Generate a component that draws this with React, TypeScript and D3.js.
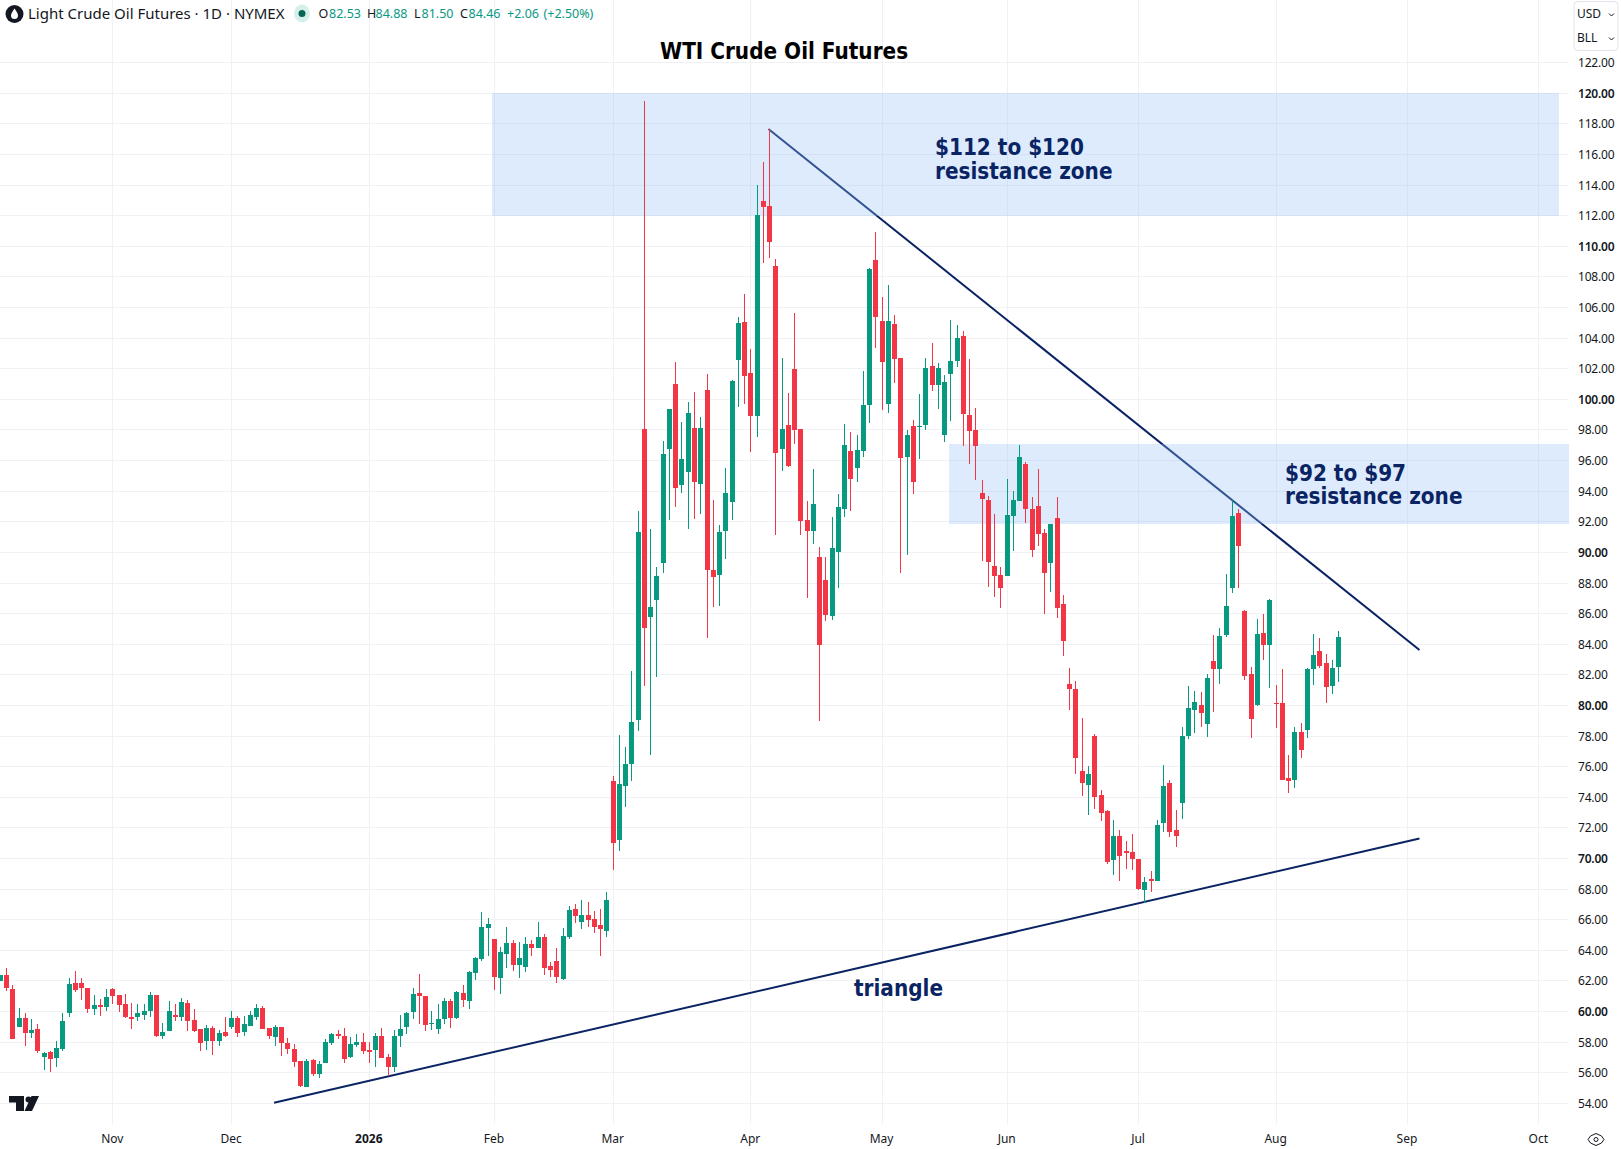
import React from "react";
import * as d3 from "d3";

// daily bars, left to right
const opens = [
  62.02,62.36,61.5,58.98,59.6,58.6,58.83,57.02,57.33,56.96,
  57.54,59.87,61.83,61.83,61.52,60.15,60.4,60.28,61.46,61.06,
  60.47,59.67,59.63,59.8,60,61.06,58.43,58.7,59.8,59.67,
  60.54,59.43,58.83,58.04,58.9,58.04,58.63,58.98,59.57,58.65,
  59.04,59.67,60.2,58.9,58.3,58.96,57.92,57.53,56.75,55.07,
  56.81,55.9,56.62,57.92,58.5,58.37,57,57.78,57.98,57.46,
  57.46,58.37,57,56.4,58.37,58.96,59.94,61.2,61.03,59.2,
  58.87,59.52,60.7,59.59,61.22,60.7,62.53,63.45,65.47,64.75,
  62.2,63.77,64.49,63.05,62.92,64.43,64.17,64.88,62.99,63.32,
  62.14,64.88,66.71,65.87,66.32,66.06,65.67,65.28,75.05,71.2,
  74.72,76.16,79.04,98.04,85.76,86.87,89.29,96.74,100.98,94.38,
  95.23,98.11,94.45,100.59,88.83,88.5,91.38,93.27,102.57,105.05,
  101.72,98.89,112.96,112.64,108.71,96.74,98.3,101.98,98.04,92.1,
  91.41,89.71,88.18,85.83,90.01,92.84,96.63,95.52,96.63,99.64,
  109.11,105.12,99.7,104.93,102.71,96.24,98.26,98.2,98.33,102.18,
  100.94,97.68,101.66,102.51,104.14,98.98,98.0,93.89,93.43,89.12,
  88.53,88.47,92.39,93.37,95.78,92.84,93.04,91.28,89.32,92.25,
  86.64,81.41,81.09,75.73,74.81,78.02,74.16,73.12,69.92,71.48,
  70.5,70.44,69.98,67.96,68.67,68.54,72.33,74.95,71.88,73.64,
  78.02,79.71,80.04,78.8,82.91,82.39,84.61,87.68,92.58,86.14,
  82.03,80.0,84.71,83.92,80.13,80.13,75.23,75.1,78.24,78.37,
  82.35,83.53,82.75,81.24,82.53,
];
const highs = [
  62.4,62.85,61.7,60.2,59.87,59.48,59.15,57.33,57.45,58.1,
  59.87,62.22,62.62,62.22,61.52,61.06,60.8,61.45,61.52,61.06,
  61.13,60.54,60.46,60.46,61.3,61.06,59.27,60.66,60.46,60.87,
  60.74,60.15,58.83,59.1,59.03,58.77,59.67,60,59.7,59.7,
  60,60.5,60.33,58.9,59.1,58.96,58.24,57.85,56.75,56.88,
  56.88,56.75,58.17,58.57,58.76,58.9,58.3,58.5,58.57,57.98,
  58.57,58.9,57.2,58.76,59.8,59.94,61.52,62.43,61.03,60.05,
  60.5,60.9,60.83,61.36,61.75,62.66,63.58,66.52,66.13,64.75,
  64.23,65.54,64.69,64.56,64.88,64.69,65.87,65.08,63.25,64.17,
  65.47,66.91,67.04,67.3,67.17,66.58,66.71,67.83,75.38,78.06,
  77.27,82.24,92.69,119.5,91.51,89.03,97.26,99.35,102.44,98.5,
  99.81,100.5,98.83,101.66,93.4,91.77,95.5,101.26,105.38,106.88,
  103.29,114.0,115.51,117.67,109.17,102.7,100.41,105.64,98.04,93.34,
  95.46,90.36,89.68,92.3,93.8,98.4,97.87,97.68,101.86,108.58,
  110.94,106.69,107.47,105.51,102.71,98.0,98.66,100.35,102.71,103.69,
  102.38,101.6,105.19,104.86,104.47,102.64,99.44,94.74,93.69,92.52,
  89.05,94.8,94.02,97.02,95.91,93.63,95.46,91.54,91.86,93.63,
  87.22,82.46,81.61,79.19,76.06,78.15,74.49,73.18,72.53,71.88,
  71.16,71.61,69.98,68.81,69.2,72.53,76.12,75.14,73.18,78.6,
  81.28,80.95,80.89,82.07,84.61,85.07,88.6,93.43,92.84,86.21,
  82.49,85.62,85.95,86.93,81.31,82.35,76.74,78.57,78.83,82.42,
  84.64,84.38,83.33,83.0,84.88,
];
const lows = [
  62.0,61.35,58.2,58.98,57.74,58.26,57.28,56.15,56.02,56.4,
  57.4,59.67,61.26,60.72,59.87,59.76,59.7,60.0,60.47,59.94,
  59.55,58.83,59.37,59.42,59.67,58.3,58.17,58.7,59.35,59.35,
  58.7,58.65,57.4,57.46,57.13,57.72,58.3,58.83,58.3,58.37,
  59.04,59.46,58.83,58.17,57.74,57.07,57.2,56.4,55.07,55.07,
  55.77,55.65,56.62,57.8,58.17,56.62,56.94,57.65,57.2,56.62,
  56.34,56.94,55.77,56.02,57.68,58.5,59.5,59.2,58.74,58.81,
  58.54,59.2,58.94,59.52,60.31,60.18,62.07,63.32,63.64,61.42,
  61.16,62.86,62.66,62.2,62.6,63.64,64.17,62.4,62.27,61.88,
  62.07,64.75,65.8,65.41,65.54,65.15,63.64,64.88,69.24,70.48,
  73.35,75.05,78.32,81.26,76.75,81.84,88.64,92.1,92.95,93.86,
  91.51,92.16,92.49,84.39,86.42,86.48,89.55,92.1,99.48,99.67,
  96.54,97.52,108.91,109.24,91.12,95.3,95.56,97.06,91.12,87.0,
  90.56,79.0,85.5,85.57,87.66,92.32,92.71,94.61,96.24,98.46,
  103.36,99.31,99.11,101.07,88.66,89.84,93.82,96.11,98.0,100.55,
  99.38,97.22,98.59,102.12,96.96,95.78,94.74,89.45,87.75,87.1,
  86.38,88.47,90.1,93.37,91.93,89.71,90.43,85.98,87.42,85.72,
  83.24,79.71,75.53,74.1,72.86,73.25,72.46,69.65,68.94,68.54,
  69.33,69.26,67.96,67.11,67.83,68.54,71.74,71.42,70.77,72.59,
  77.82,78.21,78.6,77.95,79.58,81.41,84.48,87.36,87.68,81.64,
  77.85,79.94,83.0,81.11,78.5,75.1,74.26,74.58,76.54,77.85,
  81.31,82.42,80.13,80.72,81.5,
];
const closes = [
  62.36,61.52,58.2,59.6,58.6,58.76,57.4,57.28,56.9,57.6,
  59.41,61.77,61.39,61.52,60.15,60.4,60.28,60.93,61.0,60.4,
  59.63,59.48,59.87,60.06,61.05,58.43,58.63,60,59.67,60.6,
  59.37,58.7,57.92,58.9,58.04,58.57,58.43,59.57,58.57,59.17,
  59.76,60.2,58.83,58.37,58.96,57.92,57.53,56.68,55.13,56.75,
  55.9,56.55,57.98,58.5,58.37,56.88,57.85,57.98,57.4,57.33,
  58.37,56.94,56.34,58.43,58.83,59.87,61.13,61.0,59.13,59.24,
  59.52,60.7,59.59,61.29,60.77,62.6,63.51,65.54,65.73,62.27,
  63.9,64.49,63.05,63.51,64.43,64.17,64.88,62.86,62.73,62.27,
  64.95,66.65,66.26,66.32,66.0,65.54,65.41,67.3,71.02,74.86,
  76.16,78.9,91.31,85.04,86.42,88.44,96.41,99.35,94.19,96.08,
  99.09,94.58,98.11,88.83,88.38,91.31,93.86,101.2,104.99,101.52,
  98.89,112.05,112.57,110.28,96.48,98.04,95.63,97.98,92.03,91.38,
  93.17,83.96,85.89,90.27,92.95,97.02,94.8,96.7,99.64,108.52,
  105.38,102.44,105.12,102.64,96.17,97.68,94.61,98.24,102.05,100.94,
  102.05,101.14,102.51,104.01,99.05,97.94,96.96,93.5,89.38,88.47,
  87.68,92.45,93.43,96.24,92.84,90.17,91.21,88.66,91.86,86.38,
  84.22,81.09,76.58,74.95,75.53,74.03,72.99,69.79,71.48,70.18,
  70.37,69.98,68.02,68.48,68.54,72.2,74.75,71.74,71.48,78.02,
  79.84,80.24,79.52,81.8,82.39,84.55,86.51,92.39,90.43,81.9,
  79.09,84.64,83.92,86.86,80.07,75.1,75.03,78.24,77.06,82.35,
  83.27,82.55,81.18,82.42,84.46,
];

const priceTicks = d3.range(54, 123, 2);
const boldPrices = [60, 70, 80, 90, 100, 110, 120];
const monthLabels = ["Nov", "Dec", "2026", "Feb", "Mar", "Apr", "May", "Jun", "Jul", "Aug", "Sep", "Oct"];
const monthBars = [18, 37, 59, 79, 98, 120, 141, 161, 182, 204, 225, 246];

// drawings: bar number / price pairs
const fallingLine: [number, number][] = [[122.9, 117.67], [227, 83.62]];
const risingLine: [number, number][] = [[43.85, 54.04], [227, 71.3]];
const upperZone = { from: 78.7, to: 249.3, top: 120, bottom: 112 };
const lowerZone = { from: 151.8, to: 250.9, top: 97.08, bottom: 91.88 };

const W = 1621;
const H = 1149;
const UP = "#089981";
const DOWN = "#f23645";
const NAVY = "#0a2463";
const GRID = "#f0f1f4";
const INK = "#131722";
const FONT = "'Noto Sans', sans-serif";
const NOTE_FONT = "'DejaVu Sans Condensed', 'DejaVu Sans', sans-serif";

const x = d3.scaleLinear().domain([0, 246]).range([-0.2, 1538.3]);
const y = d3.scaleLinear().domain([54, 122]).range([1103.3, 62.7]);
const line = d3.line<[number, number]>().x((d) => x(d[0])).y((d) => y(d[1]));

const legendBits = [
  { t: "O", x: 318.5, c: INK }, { t: "82.53", x: 329, c: UP },
  { t: "H", x: 367, c: INK }, { t: "84.88", x: 375.5, c: UP },
  { t: "L", x: 414, c: INK }, { t: "81.50", x: 421.5, c: UP },
  { t: "C", x: 460, c: INK }, { t: "84.46", x: 468.5, c: UP },
  { t: "+2.06", x: 507, c: UP }, { t: "(+2.50%)", x: 543.5, c: UP },
];

function Zone({ z }: { z: typeof upperZone }) {
  return (
    <rect
      x={Math.round(x(z.from))}
      y={Math.round(y(z.top))}
      width={Math.round(x(z.to)) - Math.round(x(z.from))}
      height={Math.round(y(z.bottom)) - Math.round(y(z.top))}
      fill="rgba(144,191,249,0.31)"
    />
  );
}

export default function App() {
  return (
    <svg width={W} height={H} style={{ position: "absolute", left: 0, top: 0, display: "block", background: "#fff" }} fontFamily={FONT}>
      {/* grid, snapped to whole pixels */}
      {priceTicks.map((p) => {
        const gy = Math.floor(y(p)) + 0.5;
        return <line key={p} x1={0} x2={1569} y1={gy} y2={gy} stroke={GRID} strokeWidth={1} />;
      })}
      {monthBars.map((b) => {
        const gx = Math.round(x(b)) + 0.5;
        return <line key={b} x1={gx} x2={gx} y1={0} y2={1124} stroke={GRID} strokeWidth={1} />;
      })}

      {/* trend lines sit under the zones */}
      <path d={line(fallingLine) ?? ""} stroke={NAVY} strokeWidth={2} fill="none" />
      <path d={line(risingLine) ?? ""} stroke={NAVY} strokeWidth={2} fill="none" />
      <Zone z={upperZone} />
      <Zone z={lowerZone} />

      {/* candles */}
      {closes.map((c, i) => {
        const o = opens[i];
        const col = c >= o ? UP : DOWN;
        const top = Math.round(y(Math.max(o, c)));
        const bottom = Math.round(y(Math.min(o, c)));
        const cx = Math.round(x(i));
        const wickTop = Math.round(y(highs[i]));
        const wickBottom = Math.round(y(lows[i]));
        return (
          <g key={i} shapeRendering="crispEdges">
            <rect x={cx} y={wickTop} width={1} height={wickBottom - wickTop} fill={col} />
            <rect x={cx - 2} y={top} width={5} height={Math.max(bottom - top, 1)} fill={col} />
          </g>
        );
      })}

      {/* title and notes */}
      <text x={660} y={59} fontSize={22.3} fontWeight={700} fill="#000" fontFamily={NOTE_FONT}>WTI Crude Oil Futures</text>
      <g fill={NAVY} fontSize={22.3} fontWeight={700} fontFamily={NOTE_FONT}>
        <text x={935} y={155}>$112 to $120</text>
        <text x={935} y={179}>resistance zone</text>
        <text x={1285} y={481}>$92 to $97</text>
        <text x={1285} y={504}>resistance zone</text>
        <text x={854} y={996}>triangle</text>
      </g>

      {/* legend */}
      <circle cx={14.5} cy={14} r={9} fill={INK} />
      <path d="M14.5 8.5 C16.5 11.5 18 13.5 18 15.5 A3.5 3.5 0 0 1 11 15.5 C11 13.5 12.5 11.5 14.5 8.5Z" fill="#fff" />
      <text x={28} y={19} fontSize={15} fill={INK}>Light Crude Oil Futures · 1D · NYMEX</text>
      <ellipse cx={302} cy={13.5} rx={8} ry={9} fill="#d6efeb" />
      <circle cx={302} cy={13.5} r={3.5} fill="#056656" />
      {legendBits.map((b) => (
        <text key={b.t} x={b.x} y={18} fontSize={12.5} fill={b.c}>{b.t}</text>
      ))}

      {/* price axis */}
      {priceTicks.map((p) => (
        <text
          key={p}
          x={1578}
          y={y(p) + 4.5}
          fontSize={12}
          letterSpacing={-0.2}
          fontWeight={boldPrices.includes(p) ? 600 : 400}
          fill={INK}
        >
          {p.toFixed(2)}
        </text>
      ))}
      <rect x={1574} y={1.5} width={44} height={49} rx={4} fill="#fff" stroke="#e0e3eb" />
      <text x={1577} y={18} fontSize={12} fill={INK}>USD</text>
      <text x={1577} y={42} fontSize={12} fill={INK}>BLL</text>
      <path d="M1609 13.5 l2.5 2.5 l2.5 -2.5 M1609 37.5 l2.5 2.5 l2.5 -2.5" fill="none" stroke={INK} strokeWidth={1} />

      {/* time axis */}
      {monthLabels.map((m, i) => (
        <text
          key={m}
          x={x(monthBars[i])}
          y={1143}
          fontSize={12}
          textAnchor="middle"
          fontWeight={m === "2026" ? 700 : 400}
          fill={INK}
        >
          {m}
        </text>
      ))}

      {/* gear and logo */}
      <path d="M1596 1133.5 l5.5 2.5 l2.5 3.5 l-2.5 3.5 l-5.5 2.5 l-5.5 -2.5 l-2.5 -3.5 l2.5 -3.5 Z" fill="none" stroke={INK} strokeWidth={1} />
      <circle cx={1596} cy={1139.5} r={2} fill="none" stroke={INK} strokeWidth={1} />
      <path d="M9 1096 H24 V1111 H16 V1102.5 H9 Z M39 1096 L32 1111 H24.5 L31.5 1096 Z" fill={INK} />
      <circle cx={28.5} cy={1099.5} r={3} fill={INK} />
    </svg>
  );
}
